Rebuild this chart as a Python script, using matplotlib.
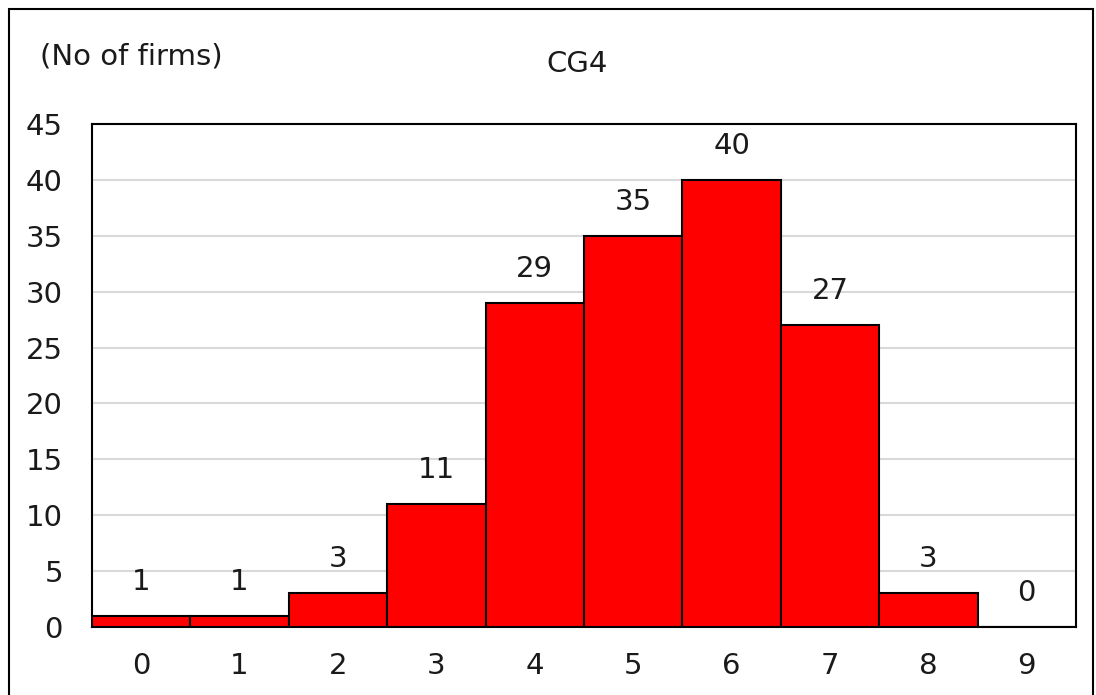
import matplotlib
matplotlib.use("Agg")
import matplotlib.pyplot as plt
from matplotlib.patches import Rectangle

scores = [0, 1, 2, 3, 4, 5, 6, 7, 8, 9]
firms = [1, 1, 3, 11, 29, 35, 40, 27, 3, 0]
title = "CG4"
unit_label = "(No of firms)"

W, H, DPI = 1096, 695, 100
FS = 21
plt.rcParams['font.family'] = ['DejaVu Sans']
fig = plt.figure(figsize=(W / DPI, H / DPI), dpi=DPI)

# plot area in pixel coordinates
left, right, top, bottom = 92, 1076, 124, 627
ax = fig.add_axes([left / W, 1 - bottom / H, (right - left) / W, (bottom - top) / H])

ax.bar(scores, firms, width=1.0, color='#ff0000', edgecolor='black', linewidth=1.5, zorder=3)
for x, v in zip(scores, firms):
    ax.annotate(str(v), (x, v), xytext=(0, 24.5), textcoords='offset points',
                ha='center', va='center', fontsize=FS, color='#1a1a1a')

ax.set_xlim(-0.5, 9.5)
ax.set_ylim(0, 45)
ax.set_yticks(range(0, 46, 5))
ax.set_xticks(scores)
ax.tick_params(axis='both', length=0, labelsize=FS, labelcolor='#1a1a1a')
ax.tick_params(axis='y', pad=21)
ax.tick_params(axis='x', pad=18)
ax.grid(axis='y', color='#d9d9d9', linewidth=1.5, zorder=0)
ax.set_axisbelow(True)
for s in ax.spines.values():
    s.set_linewidth(1.5)
    s.set_color('black')

fig.text(577 / W, 1 - 64 / H, title, ha='center', va='center', fontsize=FS, color='#1a1a1a')
fig.text(40 / W, 1 - 57 / H, unit_label, ha='left', va='center', fontsize=FS, color='#1a1a1a')

# outer frame
fig.patches.append(Rectangle((9 / W, -0.05), (1093 - 9) / W, 1.05 - 9 / H,
                             transform=fig.transFigure, fill=False,
                             edgecolor='black', linewidth=1.5))

fig.savefig('out.png', dpi=DPI)
